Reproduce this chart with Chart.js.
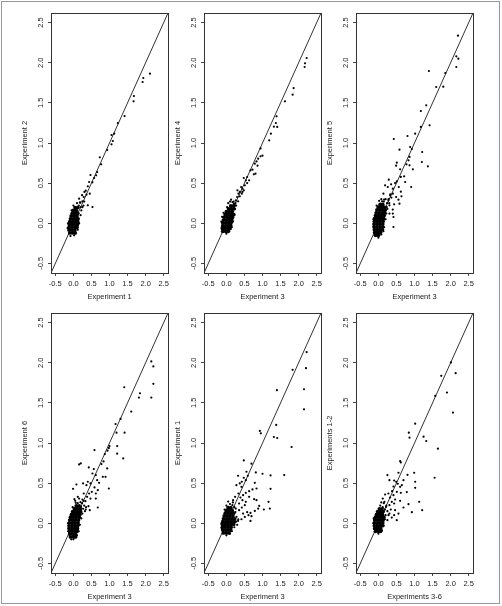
<!DOCTYPE html>
<html>
<head>
<title>Experiment replicate scatter plots</title>
<script src="https://cdn.jsdelivr.net/npm/chart.js"></script>
<style>
  body { margin: 0; background: #fff; }
  #page { position: relative; width: 502px; height: 606px; overflow: hidden; }
  #frame { position: absolute; left: 1px; top: 1px; width: 497px; height: 601px; border: 1px solid #999; }
  .panel { position: absolute; }
</style>
</head>
<body>
<div id="page">
  <div id="frame"></div>
  <canvas class="panel" id="p1" width="182" height="309" style="left:0px;top:0px"></canvas>
  <canvas class="panel" id="p2" width="182" height="309" style="left:153px;top:0px"></canvas>
  <canvas class="panel" id="p3" width="182" height="309" style="left:305px;top:0px"></canvas>
  <canvas class="panel" id="p4" width="182" height="309" style="left:0px;top:300px"></canvas>
  <canvas class="panel" id="p5" width="182" height="309" style="left:153px;top:300px"></canvas>
  <canvas class="panel" id="p6" width="182" height="309" style="left:305px;top:300px"></canvas>
</div>
<script>
// axis setup shared by all six panels
const tickVals = [-0.5, 0, 0.5, 1, 1.5, 2, 2.5];
const axisLimits = [-0.62, 2.62];

const xTitles = ['Experiment 1', 'Experiment 3', 'Experiment 3', 'Experiment 3', 'Experiment 3', 'Experiments 3-6'];
const yTitles = ['Experiment 2', 'Experiment 4', 'Experiment 5', 'Experiment 6', 'Experiment 1', 'Experiments 1-2'];

// dense centre of each cloud (points overlap into a solid blob)
const p1Core = [[-0.10,-0.12],[-0.02,-0.12],[0.05,-0.12],[-0.12,-0.085],[-0.04,-0.085],[0.04,-0.085],
  [-0.12,-0.05],[-0.04,-0.05],[0.04,-0.05],[0.10,-0.05],[-0.11,-0.015],[-0.03,-0.015],[0.05,-0.015],[0.11,-0.015],
  [-0.10,0.02],[-0.02,0.02],[0.06,0.02],[0.12,0.02],[-0.08,0.055],[0.0,0.055],[0.08,0.055],[0.13,0.055],
  [-0.06,0.09],[0.02,0.09],[0.10,0.09],[-0.03,0.125],[0.05,0.125],[0.12,0.125],[0.0,0.16],[0.08,0.16],
  [0.05,0.195],[0.12,0.195]];
const p1Pts = [[2.12,1.864],[1.936,1.81],[1.917,1.76],[1.676,1.586],[1.667,1.519],[1.417,1.336],[1.232,1.249],
  [1.13,1.116],[1.056,1.1],[1.093,1.025],[1.056,0.983],[0.936,0.913],[0.732,0.821],[0.769,0.734],[0.658,0.638],
  [0.63,0.597],[0.575,0.564],[0.473,0.601],[0.528,0.51],[0.436,0.514],[0.399,0.46],[0.343,0.406],[0.362,0.356],
  [0.287,0.327],[0.454,0.369],[0.528,0.202],[0.399,0.223],[0.25,0.273],[0.195,0.256],[0.158,0.306],[0.306,0.39],
  [0.24,0.35],[0.15,0.22],[0.2,0.2],[0.1,0.25],[0.18,0.26],[-0.15,0.0],[-0.16,-0.06],[0.16,0.0],[0.2,0.1],
  [0.22,0.16],[0.0,0.22],[-0.05,0.16],[0.12,-0.08],[-0.08,-0.16],[0.02,-0.15],[0.25,0.2],[0.3,0.27],[0.28,0.22]];

const p2Core = [[-0.1,-0.1],[-0.02,-0.1],[0.05,-0.1],[-0.11,-0.065],[-0.03,-0.065],[0.05,-0.065],[0.1,-0.065],
  [-0.1,-0.03],[-0.02,-0.03],[0.06,-0.03],[0.12,-0.03],[-0.1,0.005],[-0.02,0.005],[0.06,0.005],[0.13,0.005],
  [-0.08,0.04],[0.0,0.04],[0.08,0.04],[0.15,0.04],[-0.06,0.075],[0.02,0.075],[0.1,0.075],[0.17,0.075],
  [-0.03,0.11],[0.05,0.11],[0.13,0.11],[0.2,0.11],[0.0,0.145],[0.08,0.145],[0.16,0.145],
  [0.06,0.18],[0.14,0.18],[0.21,0.18],[0.12,0.215],[0.2,0.215]];
const p2Pts = [[2.223,2.059],[2.177,1.993],[2.167,1.947],[1.862,1.685],[1.834,1.602],[1.621,1.519],[1.389,1.332],
  [1.37,1.249],[1.315,1.203],[1.408,1.2],[1.232,1.116],[1.186,1.033],[0.945,0.933],[1.0,0.842],[0.945,0.834],
  [0.88,0.805],[0.834,0.771],[0.862,0.717],[0.787,0.742],[0.723,0.668],[0.806,0.618],[0.76,0.61],[0.667,0.66],
  [0.63,0.535],[0.575,0.576],[0.537,0.535],[0.482,0.564],[0.575,0.501],[0.51,0.472],[0.445,0.431],[0.408,0.452],
  [0.371,0.39],[0.334,0.369],[0.297,0.327],[0.26,0.285],[0.204,0.244],[0.371,0.335],[0.427,0.369],[0.325,0.273],
  [0.167,0.265],[0.13,0.294],[0.445,0.39],[0.241,0.223],[0.482,0.41],[0.306,0.41],
  [-0.14,0.02],[-0.13,-0.05],[-0.12,0.08],[0.0,-0.13],[0.08,-0.1],[0.15,-0.05],[0.18,0.02],[0.22,0.1],
  [0.24,0.18],[0.02,0.2],[0.05,0.25],[0.1,0.27],[0.2,0.27],[0.27,0.22],[0.25,0.25],[-0.08,0.13]];

const p3Core = [[-0.08,-0.15],[0.0,-0.15],[-0.1,-0.115],[-0.02,-0.115],[0.06,-0.115],
  [-0.11,-0.08],[-0.03,-0.08],[0.05,-0.08],[0.11,-0.08],[-0.12,-0.045],[-0.04,-0.045],[0.04,-0.045],[0.12,-0.045],
  [-0.12,-0.01],[-0.04,-0.01],[0.04,-0.01],[0.12,-0.01],[-0.11,0.025],[-0.03,0.025],[0.05,0.025],[0.13,0.025],
  [-0.1,0.06],[-0.02,0.06],[0.06,0.06],[0.14,0.06],[-0.08,0.095],[0.0,0.095],[0.08,0.095],[0.16,0.095],
  [-0.06,0.13],[0.02,0.13],[0.1,0.13],[0.17,0.13],[-0.04,0.165],[0.04,0.165],[0.12,0.165],[0.19,0.165],
  [0.0,0.2],[0.08,0.2],[0.16,0.2],[0.05,0.235],[0.12,0.235]];
const p3Pts = [[2.204,2.338],[2.158,2.08],[2.214,2.051],[2.158,1.947],[1.399,1.897],[1.852,1.872],[1.602,1.698],
  [1.797,1.702],[1.325,1.469],[1.176,1.399],[1.417,1.22],[1.176,1.2],[1.019,1.116],[0.806,1.087],[0.426,1.05],
  [1.213,0.888],[0.88,0.95],[0.926,0.925],[0.584,0.917],[0.862,0.826],[0.834,0.784],[0.778,0.734],[0.862,0.722],
  [1.204,0.763],[1.371,0.709],[0.51,0.755],[0.491,0.718],[0.602,0.672],[0.954,0.672],[0.713,0.585],[0.621,0.577],
  [0.741,0.514],[0.908,0.452],[0.51,0.522],[0.288,0.543],[0.352,0.485],[0.186,0.472],[0.26,0.452],[0.565,0.452],
  [0.463,0.501],[0.399,0.431],[0.621,0.394],[0.639,0.335],[0.399,0.369],[0.325,0.348],[0.139,0.369],[0.491,0.327],
  [0.556,0.294],[0.278,0.285],[0.436,0.236],[0.399,0.17],[0.584,0.244],[0.102,0.273],[0.047,0.236],[0.158,0.294],
  [0.232,0.202],[0.306,0.223],[0.417,0.078],[0.399,0.12],[0.306,0.12],[0.417,-0.047],
  [-0.14,0.05],[0.16,-0.05],[0.2,0.05],[0.22,0.12],[0.25,0.18],[0.24,0.25],[0.02,0.28],[0.08,0.3],[0.15,0.27],
  [0.2,0.3],[0.28,0.3],[0.3,0.25],[0.0,-0.18],[0.08,-0.14],[0.14,-0.1],[-0.05,0.22],[0.33,0.36],[0.36,0.32]];

const p4Core = [[-0.08,-0.17],[0.0,-0.17],[0.06,-0.17],[-0.1,-0.135],[-0.02,-0.135],[0.06,-0.135],
  [-0.11,-0.1],[-0.03,-0.1],[0.05,-0.1],[0.1,-0.1],[-0.12,-0.065],[-0.04,-0.065],[0.04,-0.065],[0.11,-0.065],
  [-0.12,-0.03],[-0.04,-0.03],[0.04,-0.03],[0.12,-0.03],[-0.11,0.005],[-0.03,0.005],[0.05,0.005],[0.13,0.005],
  [-0.1,0.04],[-0.02,0.04],[0.06,0.04],[0.14,0.04],[-0.08,0.075],[0.0,0.075],[0.08,0.075],[0.16,0.075],
  [-0.05,0.11],[0.03,0.11],[0.11,0.11],[0.18,0.11],[-0.02,0.145],[0.06,0.145],[0.14,0.145],[0.2,0.145],
  [0.03,0.18],[0.11,0.18],[0.19,0.18],[0.08,0.215],[0.16,0.215]];
const p4Pts = [[2.158,2.016],[2.214,1.954],[2.214,1.737],[2.158,1.566],[1.815,1.566],[1.843,1.62],[1.408,1.695],
  [1.602,1.391],[1.306,1.3],[1.167,1.237],[1.195,1.129],[1.417,1.129],[1.213,0.962],[1.213,0.867],[1.38,0.808],
  [1.0,0.962],[0.982,0.937],[0.945,0.904],[0.871,0.862],[0.834,0.771],[0.778,0.737],[0.936,0.683],[0.89,0.579],
  [0.815,0.579],[0.982,0.433],[0.584,0.912],[0.426,0.696],[0.565,0.675],[0.399,0.517],[0.158,0.733],[0.204,0.746],
  [0.084,0.483],[-0.009,0.429],[0.269,0.496],[0.362,0.475],[0.473,0.496],[0.528,0.62],[0.621,0.6],[0.658,0.537],
  [0.713,0.504],[0.584,0.446],[0.51,0.392],[0.436,0.371],[0.621,0.371],[0.676,0.412],[0.621,0.308],[0.676,0.196],
  [0.473,0.308],[0.38,0.329],[0.334,0.275],[0.25,0.296],[0.195,0.263],[0.158,0.308],[0.121,0.329],[0.028,0.3],
  [0.213,0.204],[0.343,0.171],[0.417,0.213],[0.454,0.163],[0.065,0.254],[0.287,0.371],
  [-0.15,0.0],[-0.14,-0.1],[0.15,-0.1],[0.18,-0.02],[0.22,0.06],[0.25,0.12],[0.27,0.18],[0.3,0.22],[0.24,0.25],
  [0.12,0.25],[-0.02,0.2],[0.05,0.28],[0.0,-0.2],[-0.06,-0.2],[0.1,-0.15],[0.32,0.15],[0.35,0.2],[0.28,0.28]];

const p5Core = [[-0.08,-0.12],[0.0,-0.12],[0.07,-0.12],[-0.1,-0.085],[-0.02,-0.085],[0.06,-0.085],[0.12,-0.085],
  [-0.11,-0.05],[-0.03,-0.05],[0.05,-0.05],[0.13,-0.05],[-0.11,-0.015],[-0.03,-0.015],[0.05,-0.015],[0.13,-0.015],[0.2,-0.015],
  [-0.1,0.02],[-0.02,0.02],[0.06,0.02],[0.14,0.02],[0.22,0.02],[-0.08,0.055],[0.0,0.055],[0.08,0.055],[0.16,0.055],[0.23,0.055],
  [-0.06,0.09],[0.02,0.09],[0.1,0.09],[0.18,0.09],[-0.03,0.125],[0.05,0.125],[0.13,0.125],[0.2,0.125],
  [0.0,0.16],[0.08,0.16],[0.16,0.16],[0.05,0.195],[0.12,0.195]];
const p5Pts = [[2.223,2.133],[2.204,1.933],[1.834,1.912],[2.149,1.67],[1.399,1.658],[2.149,1.42],[1.38,1.225],
  [0.926,1.15],[0.954,1.121],[1.315,1.075],[1.408,1.062],[1.806,0.95],[0.482,0.783],[0.695,0.742],[0.556,0.642],
  [0.815,0.633],[1.0,0.617],[1.223,0.596],[1.602,0.6],[0.593,0.592],[0.482,0.567],[0.324,0.592],[0.787,0.504],
  [0.537,0.537],[0.426,0.517],[0.371,0.496],[0.278,0.475],[0.417,0.454],[0.723,0.421],[0.834,0.433],[1.223,0.429],
  [0.63,0.4],[0.537,0.379],[0.463,0.35],[0.334,0.371],[0.241,0.329],[0.389,0.321],[0.63,0.329],[0.769,0.3],
  [0.445,0.288],[0.186,0.288],[0.537,0.267],[0.352,0.246],[0.51,0.225],[0.834,0.288],[0.908,0.217],[0.88,0.183],
  [1.167,0.267],[1.204,0.183],[1.037,0.171],[0.787,0.154],[0.667,0.129],[0.575,0.138],[0.695,0.088],[0.612,0.1],
  [0.463,0.121],[0.352,0.163],[0.51,0.079],[0.667,0.029],[0.417,0.05],[0.324,0.029],[0.26,0.183],[0.167,0.225],[0.427,0.196],
  [-0.14,0.0],[-0.13,-0.07],[0.15,-0.1],[0.22,-0.05],[0.27,0.02],[0.28,0.08],[0.25,0.14],[0.22,0.2],[0.1,0.24],
  [0.0,0.22],[-0.05,0.17],[0.0,-0.15],[0.1,-0.13],[0.3,-0.02],[0.33,0.05],[0.18,0.26],[0.05,0.27]];

const p6Core = [[-0.08,-0.1],[0.0,-0.1],[0.06,-0.1],[-0.1,-0.065],[-0.02,-0.065],[0.06,-0.065],
  [-0.11,-0.03],[-0.03,-0.03],[0.05,-0.03],[0.11,-0.03],[-0.11,0.005],[-0.03,0.005],[0.05,0.005],[0.12,0.005],
  [-0.1,0.04],[-0.02,0.04],[0.06,0.04],[0.13,0.04],[-0.08,0.075],[0.0,0.075],[0.08,0.075],[0.15,0.075],
  [-0.05,0.11],[0.03,0.11],[0.11,0.11],[-0.02,0.145],[0.06,0.145],[0.13,0.145],[0.03,0.18],[0.1,0.18]];
const p6Pts = [[2.01,2.004],[2.14,1.87],[1.741,1.837],[1.899,1.629],[1.575,1.587],[2.065,1.379],[1.019,1.241],
  [1.251,1.079],[1.325,1.025],[0.843,1.129],[0.862,1.066],[1.649,0.929],[0.602,0.775],[0.621,0.758],[0.556,0.629],
  [0.991,0.629],[0.806,0.604],[1.556,0.567],[0.25,0.6],[0.306,0.537],[0.491,0.517],[0.436,0.533],[0.695,0.537],
  [0.649,0.475],[0.537,0.492],[1.019,0.517],[1.019,0.442],[0.602,0.454],[0.417,0.458],[0.51,0.392],[0.38,0.4],
  [0.787,0.388],[0.621,0.379],[0.278,0.371],[0.417,0.35],[0.186,0.358],[0.325,0.321],[0.463,0.296],[0.602,0.279],
  [1.13,0.267],[0.371,0.267],[0.834,0.238],[0.695,0.196],[1.213,0.163],[0.927,0.138],[0.436,0.246],[0.306,0.225],
  [0.213,0.204],[0.343,0.171],[0.463,0.163],[0.556,0.121],[0.436,0.1],[0.306,0.121],[0.371,0.071],[0.25,0.038],
  [0.51,0.038],[0.167,0.267],[0.121,0.308],
  [-0.14,0.0],[-0.13,0.06],[-0.12,-0.07],[0.0,-0.13],[0.1,-0.09],[0.15,-0.03],[0.18,0.05],[0.2,0.1],[0.18,0.17],
  [0.12,0.2],[0.05,0.22],[0.15,0.25],[0.22,0.22],[0.25,0.15],[0.28,0.1],[0.08,0.26]];

const panels = [
  { id: 'p1', core: p1Core, pts: p1Pts },
  { id: 'p2', core: p2Core, pts: p2Pts },
  { id: 'p3', core: p3Core, pts: p3Pts },
  { id: 'p4', core: p4Core, pts: p4Pts },
  { id: 'p5', core: p5Core, pts: p5Pts },
  { id: 'p6', core: p6Core, pts: p6Pts }
];

const labelFont = { family: 'Liberation Sans, Arial, sans-serif', size: 7.5 };
const inkColor = '#222';

// R-style closed box round the plotting region
const boxPlugin = {
  id: 'box',
  afterDatasetsDraw(chart) {
    const a = chart.chartArea;
    const ctx = chart.ctx;
    ctx.save();
    ctx.strokeStyle = '#333';
    ctx.lineWidth = 1;
    ctx.strokeRect(Math.round(a.left) + 0.5, Math.round(a.top) + 0.5, Math.round(a.right - a.left), Math.round(a.bottom - a.top));
    ctx.restore();
  }
};

function toXY(list) {
  return list.map(p => ({ x: p[0], y: p[1] }));
}

function axisOpts(titleText, isY) {
  return {
    type: 'linear',
    min: axisLimits[0],
    max: axisLimits[1],
    afterBuildTicks: axis => { axis.ticks = tickVals.map(v => ({ value: v })); },
    afterFit: scale => {
      if (isY) scale.width = 51; else scale.height = 36;
    },
    grid: { drawOnChartArea: false, drawTicks: true, tickLength: 3, color: '#444' },
    border: { display: false },
    ticks: isY
      ? { minRotation: 90, maxRotation: 90, crossAlign: 'center', padding: 1, font: labelFont, color: inkColor, callback: v => v.toFixed(1) }
      : { maxRotation: 0, padding: 3, font: labelFont, color: inkColor, callback: v => v.toFixed(1) },
    title: isY
      ? { display: true, text: titleText, font: labelFont, color: inkColor, padding: { top: 20.5, bottom: 0 } }
      : { display: true, text: titleText, font: labelFont, color: inkColor, padding: { top: 0, bottom: 7.5 } }
  };
}

panels.forEach((p, i) => {
  new Chart(document.getElementById(p.id), {
    type: 'scatter',
    data: {
      datasets: [
        {
          data: toXY(p.core),
          backgroundColor: '#000',
          borderWidth: 0,
          pointRadius: 1.9
        },
        {
          data: toXY(p.pts),
          backgroundColor: '#000',
          borderWidth: 0,
          pointRadius: 1.1
        },
        {
          type: 'line',
          data: [{ x: axisLimits[0], y: axisLimits[0] }, { x: axisLimits[1], y: axisLimits[1] }],
          borderColor: '#333',
          borderWidth: 1,
          pointRadius: 0,
          fill: false
        }
      ]
    },
    options: {
      responsive: false,
      animation: false,
      layout: { padding: { left: 0, top: 13, right: 14, bottom: 0 } },
      plugins: { legend: { display: false }, tooltip: { enabled: false } },
      scales: {
        x: axisOpts(xTitles[i], false),
        y: axisOpts(yTitles[i], true)
      }
    },
    plugins: [boxPlugin]
  });
});
</script>
</body>
</html>
